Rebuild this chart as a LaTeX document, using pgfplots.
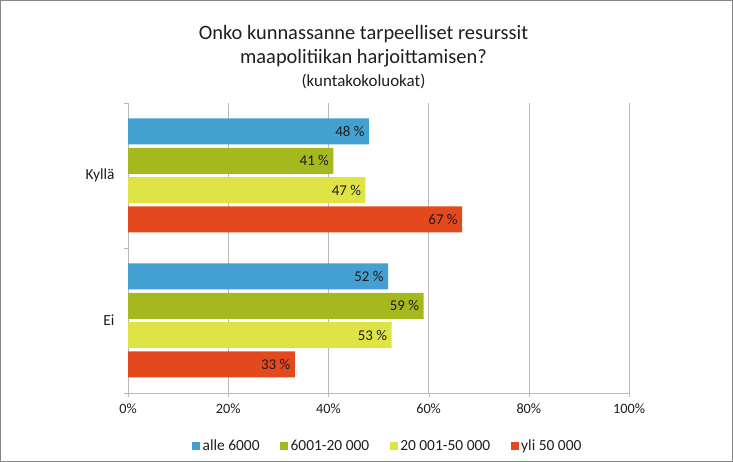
\documentclass[border=0pt]{standalone}
\usepackage{fontspec}
\setmainfont{Carlito}
\usepackage{pgfplots}
\pgfplotsset{compat=1.18}
\definecolor{cBlue}{RGB}{67,160,209}
\definecolor{cGreen}{RGB}{165,184,30}
\definecolor{cYellow}{RGB}{222,228,70}
\definecolor{cRed}{RGB}{228,73,30}
\definecolor{cFrame}{RGB}{134,134,134}
\definecolor{cAxis}{RGB}{185,185,185}
\definecolor{cLab}{RGB}{30,30,30}
\begin{document}
\begin{tikzpicture}[x=1bp,y=1bp]
\draw[cFrame, line width=1bp] (0.5,0.5) rectangle (732.5,461.5);
\begin{axis}[
  at={(128bp,69bp)}, anchor=south west,
  width=501bp, height=290bp, scale only axis,
  xmin=0, xmax=100, ymin=-0.5, ymax=1.5,
  xbar, bar width=26bp,
  axis lines=left, axis line style={-, draw=cAxis},
  tick align=outside,
  xtick={0,20,40,60,80,100},
  xticklabels={0\%,20\%,40\%,60\%,80\%,100\%},
  xmajorgrids, major grid style={cAxis},
  major tick length=4bp,
  tick style={cAxis},
  ytick={-0.5,0.5,1.5}, yticklabels={},
  extra y ticks={0,1}, extra y tick labels={Ei,Kyllä},
  extra y tick style={major tick length=0pt, yticklabel style={xshift=-10bp, font=\fontsize{15.5}{18}\selectfont}, ymajorgrids=false},
  ticklabel style={font=\fontsize{14.3}{17}\selectfont, text=cLab},
  xticklabel style={yshift=-3bp},
  /pgf/number format/assume math mode=true,
  point meta=explicit symbolic,
  nodes near coords={\pgfplotspointmeta\ \%},
  every node near coord/.append style={anchor=east, xshift=-1bp, font=\fontsize{15}{18}\selectfont, text=cLab},
  clip=false,
  legend columns=4,
  legend style={draw=none, at={(0.519,-0.183)}, anchor=center,
    font=\fontsize{15.5}{18}\selectfont, text=cLab,
    nodes={inner sep=2.5bp},
    /tikz/every even column/.append style={column sep=18bp}},
  legend image code/.code={\fill[#1] (0bp,-4bp) rectangle (8bp,4bp);},
]
\addplot[fill=cBlue, draw=none, bar shift=44bp] coordinates {(48.1,1) [48] (51.9,0) [52]};
\addplot[fill=cGreen, draw=none, bar shift=14.65bp] coordinates {(41.0,1) [41] (59.0,0) [59]};
\addplot[fill=cYellow, draw=none, bar shift=-14.65bp] coordinates {(47.4,1) [47] (52.6,0) [53]};
\addplot[fill=cRed, draw=none, bar shift=-44bp] coordinates {(66.7,1) [67] (33.3,0) [33]};
\legend{alle 6000, 6001-20 000, 20 001-50 000, yli 50 000}
\node[font=\fontsize{20.5}{24}\selectfont, text=cLab, anchor=base] at (rel axis cs:0.470,1.220) {Onko kunnassanne tarpeelliset resurssit};
\node[font=\fontsize{20.5}{24}\selectfont, text=cLab, anchor=base] at (rel axis cs:0.470,1.135) {maapolitiikan harjoittamisen?};
\node[font=\fontsize{17}{20}\selectfont, text=cLab, anchor=base] at (rel axis cs:0.470,1.057) {(kuntakokoluokat)};
\end{axis}
\end{tikzpicture}
\end{document}
